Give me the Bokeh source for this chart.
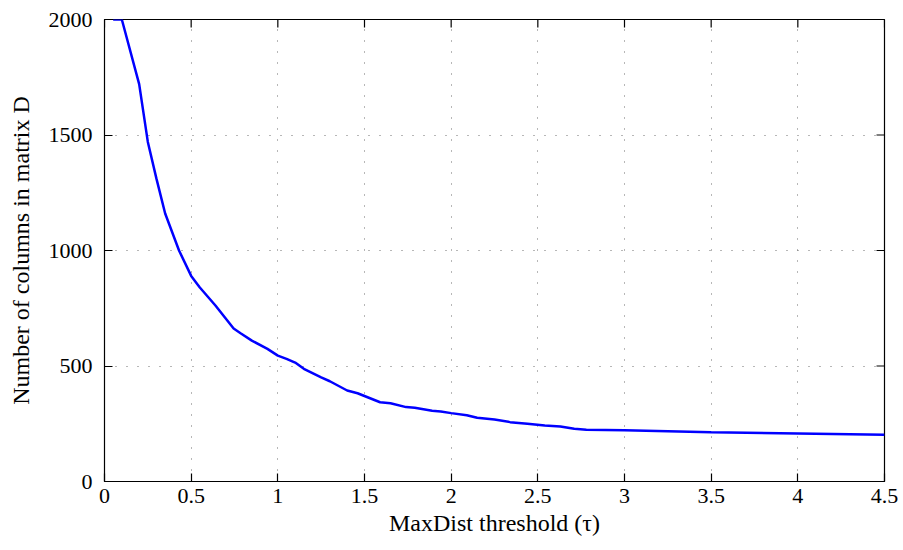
import math
from bokeh.plotting import figure
from bokeh.models import FixedTicker
from bokeh.embed import file_html
from bokeh.resources import INLINE

tau = [0.05, 0.1, 0.2, 0.25, 0.3, 0.35, 0.43, 0.5, 0.55, 0.64, 0.745, 0.785, 0.85, 0.94, 1.0,
       1.05, 1.1, 1.15, 1.25, 1.3, 1.4, 1.46, 1.59, 1.65, 1.74, 1.79, 1.89, 1.94, 2.0, 2.09,
       2.15, 2.25, 2.34, 2.44, 2.54, 2.63, 2.71, 2.78, 3.0, 3.5, 4.0, 4.1, 4.5]
cols = [2000, 2000, 1720, 1470, 1310, 1160, 1000, 890, 840, 762, 662, 642, 610, 574, 545,
        531, 515, 488, 451, 434, 394, 382, 343, 339, 322, 319, 306, 303, 296, 287,
        276, 268, 257, 250, 242, 238, 228, 224, 222, 213, 208, 207, 202]

x_ticks = [0, 0.5, 1, 1.5, 2, 2.5, 3, 3.5, 4, 4.5]
x_tick_labels = ["0", "0.5", "1", "1.5", "2", "2.5", "3", "3.5", "4", "4.5"]
y_ticks = [0, 500, 1000, 1500, 2000]
y_tick_labels = ["0", "500", "1000", "1500", "2000"]

X_MAX = 4.5
Y_MAX = 2000
FONT = "Liberation Serif"

p = figure(width=903, height=550, x_range=(0, X_MAX), y_range=(0, Y_MAX),
           output_backend="svg", toolbar_location=None,
           min_border_left=104, min_border_right=19, min_border_top=19, min_border_bottom=69)
p.background_fill_color = "white"
p.border_fill_color = "white"
p.outline_line_color = "black"
p.outline_line_width = 1.2

# grid
for g, t in ((p.xgrid[0], x_ticks), (p.ygrid[0], y_ticks)):
    g.ticker = FixedTicker(ticks=t)
    g.grid_line_color = "#6e6e6e"
    g.grid_line_dash = "1 10"
    g.grid_line_width = 1

p.line(tau, cols, line_color="#0000ff", line_width=2.5)

# inward tick marks on the top and right edges (half of each dash is clipped by the frame)
p.scatter(x_ticks, [Y_MAX] * len(x_ticks), marker="dash", size=16, angle=math.pi / 2,
          line_color="black", line_width=1.2)
p.scatter([X_MAX] * len(y_ticks), y_ticks, marker="dash", size=16,
          line_color="black", line_width=1.2)

def style_axis(ax, ticks, labels):
    ax.ticker = FixedTicker(ticks=ticks)
    ax.major_label_overrides = {t: l for t, l in zip(ticks, labels)}
    ax.major_tick_in = 8
    ax.major_tick_out = 0
    ax.minor_tick_in = 0
    ax.minor_tick_out = 0
    ax.axis_line_color = "black"
    ax.major_tick_line_color = "black"
    ax.major_tick_line_width = 1.2
    ax.major_label_text_font = FONT
    ax.major_label_text_color = "black"
    ax.major_label_text_font_size = "22px"
    ax.axis_label_text_font = FONT
    ax.axis_label_text_font_style = "normal"
    ax.axis_label_text_color = "black"
    ax.axis_label_text_font_size = "24px"

xa = p.xaxis[0]
style_axis(xa, x_ticks, x_tick_labels)
xa.axis_label = "MaxDist threshold (τ)"
xa.major_label_standoff = 7
xa.axis_label_standoff = 4

ya = p.yaxis[0]
style_axis(ya, y_ticks, y_tick_labels)
ya.axis_label = "Number of columns in matrix D"
ya.major_label_standoff = 12
ya.axis_label_standoff = 12

open("out.html", "w").write(file_html(p, INLINE))
